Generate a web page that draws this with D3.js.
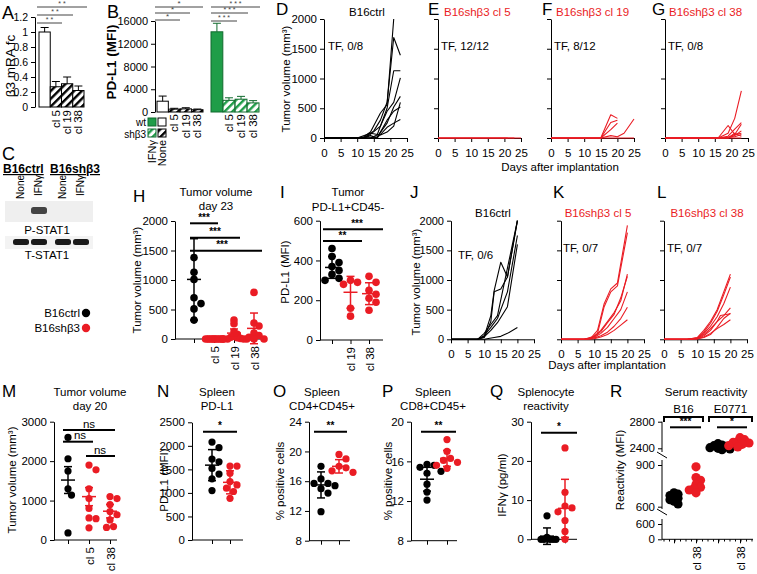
<!DOCTYPE html>
<html><head><meta charset="utf-8">
<script src="https://cdn.jsdelivr.net/npm/d3@7"></script>
<style>body{margin:0;background:#fff}svg{display:block}</style>
</head><body>
<script>
// ---------------- DATA ----------------
// A
const A_cats = ["ctrl","cl5","cl19","cl38"];
const A_labels = ["", "cl 5", "cl 19", "cl 38"];
const A_vals = [1.0, 0.27, 0.31, 0.22];
const A_err = [0.06, 0.07, 0.09, 0.06];
const A_ticks = [0,0.2,0.4,0.6,0.8,1,1.2];
// B
const B_cats = ["ctrl","cl5","cl19","cl38"];
const B_labels = ["", "cl 5", "cl 19", "cl 38"];
const B_none = [1900, 500, 550, 400];
const B_noneErr = [900, 150, 200, 120];
const B_ifng = [14100, 2050, 2250, 1600];
const B_ifngErr = [1500, 450, 500, 400];
const B_ticks = [0,4000,8000,12000,16000];
// line panels
const LX_TICKS = [0,5,10,15,20,25];
const LY_TICKS = [0,500,1000,1500,2000];
const D_lines = [
 [[0,0],[10,0],[12,20],[14,100],[17,420],[19,560],[21,2000]],
 [[0,0],[12,0],[15,120],[17,300],[19,600],[21,1690],[23,1390]],
 [[0,0],[14,0],[16,50],[19,500],[21,1130],[23,1130]],
 [[0,0],[12,0],[14,60],[17,200],[19,450],[21,600],[23,1010]],
 [[0,0],[14,0],[16,20],[19,250],[21,520],[23,700]],
 [[0,0],[12,0],[14,40],[16,0],[19,300],[21,450],[23,520]],
 [[0,0],[16,0],[19,180],[21,250],[23,310]],
 [[0,0],[10,0],[14,80],[17,50],[19,100],[21,200],[23,600]]
];
const E_lines = [
 [[0,0],[25,0]], [[0,0],[23,0]], [[0,0],[21,0]]
];
const F_lines = [
 [[0,0],[15,0],[18,390],[20,330]],
 [[0,0],[15,0],[18,260],[20,300]],
 [[0,0],[15,0],[18,140],[20,250]],
 [[0,0],[15,0],[18,40],[20,20],[22,80],[25,320]],
 [[0,0],[25,0]]
];
const G_lines = [
 [[0,0],[16,0],[19,210],[21,60],[23,80]],
 [[0,0],[16,0],[19,80],[21,330],[23,790]],
 [[0,0],[16,0],[19,30],[21,150],[23,260]],
 [[0,0],[16,0],[19,10],[21,60],[23,230]],
 [[0,0],[16,0],[19,0],[21,40],[23,120]],
 [[0,0],[16,0],[21,20],[23,60]],
 [[0,0],[19,0],[21,80],[23,30]],
 [[0,0],[23,0]]
];
const J_lines = [
 [[0,0],[8,0],[10,50],[12,400],[13,820],[15,1300],[17,1050],[20,2000]],
 [[0,0],[8,0],[10,30],[12,300],[13,800],[15,850],[17,1050],[20,2000]],
 [[0,0],[8,0],[10,100],[12,250],[14,400],[17,1200],[20,2000]],
 [[0,0],[8,0],[10,60],[12,200],[14,350],[17,800],[20,1750]],
 [[0,0],[8,0],[10,40],[12,150],[14,280],[17,550],[20,1600]],
 [[0,0],[10,0],[13,30],[15,50],[17,100],[20,200]]
];
const K_lines = [
 [[0,0],[7,0],[9,20],[11,150],[13,600],[15,850],[17,950],[20,1920]],
 [[0,0],[7,0],[9,10],[11,100],[13,550],[15,800],[17,900],[20,1800]],
 [[0,0],[7,0],[10,50],[12,150],[14,300],[16,450],[18,650],[20,1100]],
 [[0,0],[7,0],[10,40],[12,130],[14,280],[16,420],[18,700],[20,1060]],
 [[0,0],[7,0],[10,30],[12,100],[14,200],[16,350],[18,500],[20,800]],
 [[0,0],[7,0],[10,20],[12,60],[14,120],[16,220],[18,350],[20,540]],
 [[0,0],[7,0],[10,10],[12,40],[14,80],[16,150],[18,240],[20,330]]
];
const L_lines = [
 [[0,0],[7,0],[10,30],[12,150],[14,300],[16,500],[18,800],[20,1100]],
 [[0,0],[7,0],[10,20],[12,120],[14,270],[16,470],[18,750],[20,1050]],
 [[0,0],[7,0],[10,20],[12,100],[14,220],[16,380],[18,600],[20,880]],
 [[0,0],[7,0],[10,15],[12,80],[14,180],[16,300],[18,400],[20,530]],
 [[0,0],[7,0],[10,10],[12,60],[14,150],[16,300],[17,400],[20,430]],
 [[0,0],[7,0],[10,10],[12,40],[14,100],[16,180],[18,250],[20,330]],
 [[0,0],[7,0],[10,5],[12,30],[14,80],[16,200],[18,350],[20,440]]
];
// H
const H_labels = ["", "cl 5", "cl 19", "cl 38"];
const H_ticks = [0,500,1000,1500,2000];
const H_ctrl = [1380,1130,1010,700,600,510,320];
const H_cl5 = [0,0,0,0,0,0,0,0,0,0,0,0];
const H_cl19 = [320,260,120,80,50,30,20,10,0,0,0,0];
const H_cl38 = [790,270,220,100,60,30,0,0];
const H_mean = [1010,0,100,180];
const H_err = [690,0,70,260];
// I
const I_labels = ["", "cl 19", "cl 38"];
const I_ticks = [0,200,400,600];
const I_ctrl = [460,420,390,370,350,330,310,300];
const I_cl19 = [300,290,280,160,120];
const I_cl38 = [320,290,250,230,210,190,150];
const I_mean = [365,240,233];
const I_err = [55,80,55];
// M
const M_labels = ["", "cl 5", "cl 38"];
const M_ticks = [0,1000,2000,3000];
const M_ctrl = [2600,2060,1750,1300,1140,180];
const M_cl5 = [1900,1780,1300,1050,800,560,540,310];
const M_cl38 = [1100,1050,900,720,640,510,340,320];
const M_mean = [1520,1100,730];
const M_err = [340,230,170];
// N
const N_ticks = [0,500,1000,1500,2000,2500];
const N_ctrl = [2080,1960,1720,1660,1520,1400,1300,1050];
const N_sh = [1570,1570,1420,1240,1170,1100,1030,885];
const N_mean = [1590,1225];
const N_err = [330,245];
// O
const O_ticks = [8,12,16,20,24];
const O_ctrl = [18.0,16.3,15.7,15.7,15.4,15.0,14.4,11.9];
const O_sh = [19.6,19.0,18.0,17.8,17.4,17.2];
const O_mean = [15.5,18.0];
const O_err = [1.75,0.9];
// P
const P_ticks = [8,12,16,20];
const P_ctrl = [15.7,15.6,15.4,15.0,14.8,13.7,12.9,12.1];
const P_sh = [18.2,17.0,16.3,16.1,15.9,15.6,15.3];
const P_mean = [14.2,16.3];
const P_err = [1.2,0.8];
// Q
const Q_ticks = [0,10,20,30];
const Q_ctrl = [6,0.5,0,0,0,0,0];
const Q_sh = [23.3,12,8.5,8,7,4.8,2,0];
const Q_mean = [0.8,7.9];
const Q_err = [2.1,7.4];
// R
const R_labels = ["", "cl 38", "", "cl 38"];
const R_b16ctrl = [700,690,680,670,660,650,640,620];
const R_b16cl38 = [887,810,790,760,740,730,720,700];
const R_eCtrl = [2470,2450,2440,2430,2410,2400,2390,2380];
const R_eCl38 = [2560,2530,2500,2490,2480,2460,2440,2420];
const R_ticksTop = [2400,2800];
const R_ticksMid = [600,900];
const R_ticksBot = [0,600];

// ---------------- DRAWING ----------------
const RED = "#ea1c24", GREEN = "#1f9d48";
const FF = '"Liberation Sans", Arial, Helvetica, sans-serif';
const svg = d3.select("body").append("svg").attr("width",757).attr("height",574).attr("font-family",FF);
const defs = svg.append("defs");
function hatch(id, color){
  const p = defs.append("pattern").attr("id",id).attr("patternUnits","userSpaceOnUse")
    .attr("width",5.5).attr("height",5.5).attr("patternTransform","rotate(45)");
  p.append("rect").attr("width",5.5).attr("height",5.5).attr("fill","#fff");
  p.append("rect").attr("width",2.4).attr("height",5.5).attr("fill",color);
}
hatch("hB","#000"); hatch("hG",GREEN);

function T(x,y,s,o={}){
  const t = svg.append("text").attr("x",x).attr("y",y).text(s)
    .attr("font-size",o.fs||11.5).attr("text-anchor",o.a||"start").attr("fill",o.c||"#000");
  if(o.w) t.attr("font-weight",o.w);
  if(o.rot) t.attr("transform",`rotate(-90,${x},${y})`);
  if(o.dy) t.attr("dy",o.dy);
  if(o.ul) t.attr("text-decoration","underline");
  return t;
}
function L(x1,y1,x2,y2,c="#000",w=1){
  return svg.append("line").attr("x1",x1).attr("y1",y1).attr("x2",x2).attr("y2",y2).attr("stroke",c).attr("stroke-width",w);
}
function yAxis(x, scale, ticks, o={}){
  const fmt = o.noLab ? (() => "") : (d => String(d));
  const ax = d3.axisLeft(scale).tickValues(ticks).tickSize(4).tickPadding(3).tickSizeOuter(0).tickFormat(fmt);
  const g = svg.append("g").attr("transform",`translate(${x},0)`).call(ax)
    .attr("font-family",FF).attr("font-size",o.fs||11.5);
  g.selectAll("text").attr("fill","#000");
  g.selectAll("line").attr("stroke","#000");
  g.select(".domain").attr("stroke","#000");
  if(o.noDomain) g.select(".domain").remove();
  return g;
}
function sig(x1,x2,y,s,o={}){
  L(x1,y,x2,y,o.c||"#000",o.sw||2);
  T(o.tx!==undefined?o.tx:(x1+x2)/2, y-(o.ty||2.5), s, {a:"middle", fs:o.fs||10, w:o.w||"bold", c:o.c||"#000"});
}
function rotLabel(x,y,s,fs=11.5){ T(x,y,s,{a:"end",rot:true,dy:"0.35em",fs}); }

// ===== Panel A =====
T(2,19,"A",{fs:18});
const aY = d3.scaleLinear().domain([0,1.2]).range([107,17]);
const aX = d3.scaleBand().domain(A_cats).range([39,84]);
yAxis(35, aY, A_ticks, {fs:10.5});
T(10,66,"β3 mRA fc",{a:"middle",rot:true,dy:"0.35em",fs:13.5});
svg.append("g").selectAll("rect").data(A_vals).join("rect")
  .attr("x",(d,i)=>aX(A_cats[i])).attr("width",aX.bandwidth())
  .attr("y",d=>aY(d)).attr("height",d=>aY(0)-aY(d))
  .attr("fill",(d,i)=>i===0?"#fff":"url(#hB)").attr("stroke","#000");
A_vals.forEach((v,i)=>{const cx=aX(A_cats[i])+aX.bandwidth()/2;
  L(cx,aY(v),cx,aY(v+A_err[i])); L(cx-4,aY(v+A_err[i]),cx+4,aY(v+A_err[i]));
  if(A_labels[i]) rotLabel(cx,110,A_labels[i],11.5);});
[[87,7],[73,15],[62,23]].forEach(([x2,y])=>sig(37,x2,y,"* *",{sw:1,c:"#444",fs:7,ty:1.5,w:"normal"}));

// ===== Panel B =====
T(107,18,"B",{fs:18});
const bY = d3.scaleLinear().domain([0,16000]).range([112,21]);
const bX1 = d3.scaleBand().domain(B_cats).range([157,203]).paddingInner(0.02);
const bX2 = d3.scaleBand().domain(B_cats).range([211,259]).paddingInner(0.02);
yAxis(155, bY, B_ticks, {fs:11});
T(111,62,"PD-L1 (MFI)",{a:"middle",rot:true,dy:"0.35em",fs:13.5,w:"bold"});
function bBars(sc, vals, errs, fills, stroke){
  svg.append("g").selectAll("rect").data(vals).join("rect")
    .attr("x",(d,i)=>sc(B_cats[i])).attr("width",sc.bandwidth())
    .attr("y",d=>bY(d)).attr("height",d=>bY(0)-bY(d))
    .attr("fill",(d,i)=>fills[i]).attr("stroke",stroke);
  vals.forEach((v,i)=>{const cx=sc(B_cats[i])+sc.bandwidth()/2;
    L(cx,bY(v),cx,bY(v+errs[i]),stroke); L(cx-4,bY(v+errs[i]),cx+4,bY(v+errs[i]),stroke);
    if(B_labels[i]) rotLabel(cx,114,B_labels[i],11.5);});
}
bBars(bX1,B_none,B_noneErr,["#fff","url(#hB)","url(#hB)","url(#hB)"],"#000");
bBars(bX2,B_ifng,B_ifngErr,[GREEN,"url(#hG)","url(#hG)","url(#hG)"],"#116b2e");
[[203,7],[190,13],[180,20]].forEach(([x2,y])=>sig(155,x2,y,"*",{sw:1,c:"#444",fs:8,ty:1.5,w:"normal"}));
[[260,7],[248,13],[237,21]].forEach(([x2,y])=>sig(211,x2,y,"* * *",{sw:1,c:"#444",fs:7,ty:1.5,w:"normal"}));
// legend
T(146,126,"wt",{a:"end",fs:10}); T(146,138,"shβ3",{a:"end",fs:10});
svg.append("rect").attr("x",148).attr("y",118).attr("width",8).attr("height",8).attr("fill",GREEN).attr("stroke","#116b2e");
svg.append("rect").attr("x",158).attr("y",118).attr("width",8).attr("height",8).attr("fill","#fff").attr("stroke","#000");
svg.append("rect").attr("x",148).attr("y",129).attr("width",8).attr("height",8).attr("fill","url(#hG)").attr("stroke","#116b2e");
svg.append("rect").attr("x",158).attr("y",129).attr("width",8).attr("height",8).attr("fill","url(#hB)").attr("stroke","#000");
rotLabel(152,140,"IFNγ",11); rotLabel(162,140,"None",11);

// ===== Panel C =====
T(2,160,"C",{fs:18});
T(3,173,"B16ctrl",{fs:12,w:"bold",ul:true});
T(50,173,"B16shβ3",{fs:12,w:"bold",ul:true});
svg.append("rect").attr("x",5).attr("y",201).attr("width",88).attr("height",21).attr("fill","#efefef");
svg.append("rect").attr("x",31).attr("y",207).attr("width",16).attr("height",7).attr("rx",2.5).attr("fill","#444");
[[20,"None"],[38,"IFNγ"],[62,"None"],[80,"IFNγ"]].forEach(([x,s])=>rotLabel(x,175,s,10));
T(47,234,"P-STAT1",{a:"middle",fs:11.5});
svg.append("rect").attr("x",5).attr("y",236).attr("width",88).attr("height",13).attr("fill","#f3f3f3");
[13,31,55,73].forEach(x=>svg.append("rect").attr("x",x).attr("y",239).attr("width",16).attr("height",6).attr("rx",2.5).attr("fill","#1a1a1a"));
T(47,259,"T-STAT1",{a:"middle",fs:11.5});
// legend
T(80,317,"B16ctrl",{a:"end"}); svg.append("circle").attr("cx",86).attr("cy",313).attr("r",4.2).attr("fill","#000");
T(80,332,"B16shβ3",{a:"end"}); svg.append("circle").attr("cx",86).attr("cy",328).attr("r",4.2).attr("fill",RED);

// ===== line panels =====
function linePanel(p){
  const x = d3.scaleLinear().domain([0,25]).range([p.x0,p.x0+83]);
  const y = d3.scaleLinear().domain([0,2000]).range([p.y0,p.yTop]);
  yAxis(p.x0, y, LY_TICKS, {noLab: p.yLab ? false : true, fs: p.yfs || 11.5});
  const xa = d3.axisBottom(x).tickValues(LX_TICKS).tickSize(4).tickPadding(7).tickSizeOuter(0).tickFormat(d=>String(d));
  const g = svg.append("g").attr("transform",`translate(0,${p.y0})`).call(xa).attr("font-family",FF).attr("font-size",11.5);
  g.selectAll("text").attr("fill","#000"); g.selectAll("line,path").attr("stroke","#000");
  const line = d3.line().x(d=>x(d[0])).y(d=>y(d[1]));
  svg.append("g").selectAll("path").data(p.lines).join("path").attr("d",line)
    .attr("fill","none").attr("stroke",p.color).attr("stroke-width",1.1).attr("stroke-linejoin","round");
}
// D-G
T(276,15,"D",{fs:17});
linePanel({x0:324,y0:138,yTop:19,lines:D_lines,color:"#000",yLab:true});
T(286,79,"Tumor volume (mm³)",{a:"middle",rot:true,dy:"0.35em"});
T(367,16,"B16ctrl",{a:"middle"}); T(328,50,"TF, 0/8");
T(428,15,"E",{fs:17});
linePanel({x0:438,y0:138,yTop:19,lines:E_lines,color:RED});
T(444,16,"B16shβ3 cl 5",{c:RED}); T(441,50,"TF, 12/12");
T(542,15,"F",{fs:17});
linePanel({x0:551,y0:138,yTop:19,lines:F_lines,color:RED});
T(556,16,"B16shβ3 cl 19",{c:RED}); T(554,50,"TF, 8/12");
T(652,15,"G",{fs:17});
linePanel({x0:665,y0:138,yTop:19,lines:G_lines,color:RED});
T(669,16,"B16shβ3 cl 38",{c:RED}); T(668,50,"TF, 0/8");
T(560,171,"Days after implantation",{a:"middle"});
// J-L
T(410,198,"J",{fs:17});
linePanel({x0:451,y0:339.3,yTop:220.7,lines:J_lines,color:"#000",yLab:true,yfs:11});
T(416,282,"Tumor volume (mm³)",{a:"middle",rot:true,dy:"0.35em"});
T(493,217,"B16ctrl",{a:"middle"}); T(458,259,"TF, 0/6");
T(553,198,"K",{fs:17});
linePanel({x0:561,y0:339.3,yTop:220.7,lines:K_lines,color:RED});
T(598,217,"B16shβ3 cl 5",{a:"middle",c:RED}); T(563,252,"TF, 0/7");
T(657,198,"L",{fs:17});
linePanel({x0:664,y0:339.3,yTop:220.7,lines:L_lines,color:RED});
T(707,217,"B16shβ3 cl 38",{a:"middle",c:RED}); T(667,252,"TF, 0/7");
T(607,369,"Days after implantation",{a:"middle"});

// ===== dot panels =====
function swarm(vals, ymap, cx, md){
  const pts = vals.map(v=>({v,y:ymap(v)})).sort((a,b)=>a.y-b.y);
  const placed=[]; const step=md/2;
  pts.forEach(p=>{
    let x=cx;
    for(let j=0;j<80;j++){
      const o=(j%2===1?1:-1)*Math.ceil(j/2)*step;
      if(placed.every(q=>Math.hypot(q.x-(cx+o),q.y-p.y)>=md)){x=cx+o;break;}
    }
    p.x=x; placed.push(p);
  });
  return placed;
}
function dotPanel(p){
  const ymap = p.ymap || p.y;
  if(p.y) yAxis(p.ax0, p.y, p.ticks);
  L(p.ax0, p.base, p.ax1, p.base);
  const names = p.labels.map((d,i)=>"g"+i);
  const xs = d3.scalePoint().domain(names).range(p.xr);
  const xa = d3.axisBottom(xs).tickSize(4).tickPadding(3).tickFormat((d,i)=>p.labels[i]);
  const g = svg.append("g").attr("transform",`translate(0,${p.base})`).call(xa).attr("font-family",FF).attr("font-size",11.5);
  g.select(".domain").remove(); g.selectAll("line").attr("stroke","#000");
  g.selectAll("text").attr("fill","#000").attr("transform","rotate(-90)").attr("text-anchor","end")
    .attr("x",-7).attr("y",0).attr("dy","0.35em");
  p.groups.forEach((vals,i)=>{
    const cx = xs(names[i]); const col = p.colors[i];
    const pts = swarm(vals, ymap, cx, p.md[i]);
    svg.append("g").selectAll("circle").data(pts).join("circle")
      .attr("cx",d=>d.x).attr("cy",d=>d.y).attr("r",p.r).attr("fill",col);
    if(p.mean){
      const m=p.mean[i], e=p.err[i];
      L(cx,ymap(m-e),cx,ymap(m+e),col,1.5);
      L(cx-7,ymap(m),cx+7,ymap(m),col,1.5);
      L(cx-4,ymap(m-e),cx+4,ymap(m-e),col,1.5);
      L(cx-4,ymap(m+e),cx+4,ymap(m+e),col,1.5);
    }
  });
}
// H
T(133,202,"H",{fs:17});
T(216,196,"Tumor volume",{a:"middle"}); T(216,210,"day 23",{a:"middle"});
T(137,280,"Tumor volume (mm³)",{a:"middle",rot:true,dy:"0.35em"});
dotPanel({y:d3.scaleLinear().domain([0,2000]).range([339,221]),ticks:H_ticks,ax0:175,ax1:267,base:339,
  xr:[194,254],labels:H_labels,groups:[H_ctrl,H_cl5,H_cl19,H_cl38],colors:["#000",RED,RED,RED],
  md:[7,1.4,3.2,5],r:3.8,mean:H_mean,err:H_err});
sig(190,218,223.3,"***"); sig(190,240,237.7,"***"); sig(190,262,250.7,"***",{tx:222});
// I
T(280,198,"I",{fs:17});
T(348,196,"Tumor",{a:"middle"}); T(348,211,"PD-L1+CD45-",{a:"middle"});
T(285,272,"PD-L1 (MFI)",{a:"middle",rot:true,dy:"0.35em"});
dotPanel({y:d3.scaleLinear().domain([0,600]).range([340,220.7]),ticks:I_ticks,ax0:320,ax1:383,base:340,
  xr:[332,369],labels:I_labels,groups:[I_ctrl,I_cl19,I_cl38],colors:["#000",RED,RED],
  md:[7,7,7],r:3.8,mean:I_mean,err:I_err});
sig(323,383,229.3,"***",{tx:357}); sig(323,362,241,"**");
// M
T(2,397,"M",{fs:17});
T(90,396,"Tumor volume",{a:"middle"}); T(90,410,"day 20",{a:"middle"});
T(12,480,"Tumor volume (mm³)",{a:"middle",rot:true,dy:"0.35em"});
dotPanel({y:d3.scaleLinear().domain([0,3000]).range([540,421.7]),ticks:M_ticks,ax0:54,ax1:117,base:540,
  xr:[68,110],labels:M_labels,groups:[M_ctrl,M_cl5,M_cl38],colors:["#000",RED,RED],
  md:[7,7,7],r:3.6,mean:M_mean,err:M_err});
sig(63,115,430,"ns",{fs:11.5,w:"normal",tx:89});
sig(63,93,441.7,"ns",{fs:11.5,w:"normal",tx:80});
sig(86,115,456,"ns",{fs:11.5,w:"normal",tx:100});
// N
T(157,397,"N",{fs:17});
T(217,396,"Spleen",{a:"middle"}); T(217,410,"PD-L1",{a:"middle"});
T(164,480,"PD-L1 (MFI)",{a:"middle",rot:true,dy:"0.35em"});
dotPanel({y:d3.scaleLinear().domain([0,2500]).range([540,422.3]),ticks:N_ticks,ax0:192,ax1:243,base:540,
  xr:[212,230],labels:["",""],groups:[N_ctrl,N_sh],colors:["#000",RED],
  md:[7,7],r:3.6,mean:N_mean,err:N_err});
sig(203,237,431.7,"*");
// O
T(273,397,"O",{fs:17});
T(322,396,"Spleen",{a:"middle"}); T(322,410,"CD4+CD45+",{a:"middle"});
T(280,481,"% positive cells",{a:"middle",rot:true,dy:"0.35em"});
dotPanel({y:d3.scaleLinear().domain([8,24]).range([540.7,421.7]),ticks:O_ticks,ax0:309,ax1:350,base:540.7,
  xr:[321,339],labels:["",""],groups:[O_ctrl,O_sh],colors:["#000",RED],
  md:[7,7],r:3.6,mean:O_mean,err:O_err});
sig(314,347,431.7,"**");
// P
T(382,397,"P",{fs:17});
T(433,396,"Spleen",{a:"middle"}); T(433,410,"CD8+CD45+",{a:"middle"});
T(388,481,"% positive cells",{a:"middle",rot:true,dy:"0.35em"});
dotPanel({y:d3.scaleLinear().domain([8,20]).range([540.7,421.7]),ticks:P_ticks,ax0:411,ax1:457,base:540.7,
  xr:[427,447],labels:["",""],groups:[P_ctrl,P_sh],colors:["#000",RED],
  md:[7,7],r:3.6,mean:P_mean,err:P_err});
sig(421,456,431.7,"**");
// Q
T(490,397,"Q",{fs:17});
T(546,396,"Splenocyte",{a:"middle"}); T(546,410,"reactivity",{a:"middle"});
T(502,485,"IFNγ (pg/ml)",{a:"middle",rot:true,dy:"0.35em"});
dotPanel({y:d3.scaleLinear().domain([0,30]).range([539.3,421.7]),ticks:Q_ticks,ax0:531,ax1:577,base:539.3,
  xr:[547,565],labels:["",""],groups:[Q_ctrl,Q_sh],colors:["#000",RED],
  md:[3,7],r:3.6,mean:Q_mean,err:Q_err});
sig(541,577,432.7,"*");
// R (broken axis)
T(610,397,"R",{fs:17});
T(706,396,"Serum reactivity",{a:"middle"});
T(620,470,"Reactivity (MFI)",{a:"middle",rot:true,dy:"0.35em"});
const rTop = d3.scaleLinear().domain([2400,2800]).range([448.3,421.7]);
const rMid = d3.scaleLinear().domain([600,900]).range([506.7,465]);
const rBot = d3.scaleLinear().domain([0,600]).range([539.3,524]);
yAxis(662, rTop, R_ticksTop, {noDomain:true}); yAxis(662, rMid, R_ticksMid, {noDomain:true}); yAxis(662, rBot, R_ticksBot, {noDomain:true});
L(662,421.7,662,452); L(662,460,662,509); L(662,519,662,539.3);
L(657,452,667,458); L(657,509,667,515);
const rMap = v => v >= 2000 ? rTop(v) : rMid(v);
dotPanel({ymap:rMap,ax0:662,ax1:753,base:539.3,xr:[674,740],labels:R_labels,
  groups:[R_b16ctrl,R_b16cl38,R_eCtrl,R_eCl38],colors:["#000",RED,"#000",RED],md:[4,4.5,4,4.5],r:4.6});
d3.range(664,753,5.5).forEach(x=>L(x,539.3,x,541.5));
[[664,703,"B16"],[709,752,"E0771"]].forEach(([a,b,s])=>{
  L(a,417,b,417,"#000",2); L(a,416,a,422,"#000",2); L(b,416,b,422,"#000",2);
  T((a+b)/2,413,s,{a:"middle"});
});
sig(670,701,427.3,"***"); sig(717,747,427.3,"*");
</script>
</body></html>
